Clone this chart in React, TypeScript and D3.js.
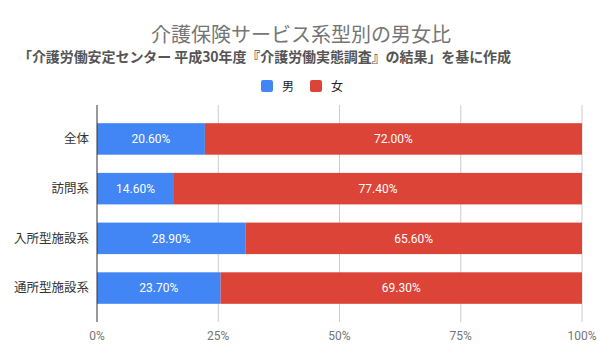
import React, { useEffect, useRef } from 'react';
import * as d3 from 'd3';

const categories = ['全体', '訪問系', '入所型施設系', '通所型施設系'];
const maleValues = [20.6, 14.6, 28.9, 23.7];
const femaleValues = [72.0, 77.4, 65.6, 69.3];
const seriesNames = ['男', '女'];
const seriesColors = ['#4285f4', '#db4437'];
const tickValues = [0, 0.25, 0.5, 0.75, 1];

const title = '介護保険サービス系型別の男女比';
const subtitle = '「介護労働安定センター 平成30年度『介護労働実態調査』の結果」を基に作成';

const width = 600;
const height = 361;
const margin = { top: 105, right: 18, bottom: 39, left: 97 };
const fontSans = 'Roboto, "Noto Sans CJK JP", sans-serif';

const App = () => {
    const svgRef = useRef<SVGSVGElement>(null);

    useEffect(() => {
        const svg = d3.select(svgRef.current);
        svg.selectAll('*').remove();

        const x = d3.scaleLinear()
            .domain([0, 1])
            .range([margin.left, width - margin.right]);

        const y = d3.scaleBand()
            .domain(categories)
            .range([margin.top, height - margin.bottom])
            .padding(0.366);

        // title + subtitle
        svg.append('text')
            .attr('x', 301)
            .attr('y', 42)
            .attr('text-anchor', 'middle')
            .attr('fill', '#757575')
            .style('font', `20px "Noto Sans CJK JP", sans-serif`)
            .text(title);

        svg.append('text')
            .attr('x', 18)
            .attr('y', 62)
            .attr('fill', '#555')
            .attr('textLength', 493)
            .style('font', `bold 14px "Noto Sans CJK JP", sans-serif`)
            .text(subtitle);

        // legend
        const legend = svg.append('g').style('font', `12px ${fontSans}`);
        const legendX = [261, 310];
        seriesNames.forEach((name, i) => {
            legend.append('rect')
                .attr('x', legendX[i])
                .attr('y', 80)
                .attr('width', 12)
                .attr('height', 12)
                .attr('rx', 2)
                .attr('fill', seriesColors[i]);
            legend.append('text')
                .attr('x', legendX[i] + 21)
                .attr('y', 90.5)
                .attr('fill', '#222')
                .text(name);
        });

        // gridlines
        svg.append('g')
            .selectAll('line')
            .data(tickValues.slice(1))
            .join('line')
            .attr('x1', d => x(d))
            .attr('x2', d => x(d))
            .attr('y1', margin.top)
            .attr('y2', height - margin.bottom)
            .attr('stroke', '#ccc');

        // bars
        const rows = categories.map((c, i) => {
            const total = maleValues[i] + femaleValues[i];
            return { c, m: maleValues[i], f: femaleValues[i], mShare: maleValues[i] / total };
        });

        const g = svg.append('g');
        g.selectAll('rect.m')
            .data(rows)
            .join('rect')
            .attr('class', 'm')
            .attr('x', x(0))
            .attr('y', d => y(d.c)!)
            .attr('width', d => x(d.mShare) - x(0))
            .attr('height', y.bandwidth())
            .attr('fill', seriesColors[0]);

        g.selectAll('rect.f')
            .data(rows)
            .join('rect')
            .attr('class', 'f')
            .attr('x', d => x(d.mShare))
            .attr('y', d => y(d.c)!)
            .attr('width', d => x(1) - x(d.mShare))
            .attr('height', y.bandwidth())
            .attr('fill', seriesColors[1]);

        const fmt = (v: number) => v.toFixed(2) + '%';
        const labels = svg.append('g')
            .attr('fill', '#fff')
            .attr('text-anchor', 'middle')
            .style('font', `12px ${fontSans}`);
        labels.selectAll('text.m')
            .data(rows)
            .join('text')
            .attr('class', 'm')
            .attr('x', d => (x(0) + x(d.mShare)) / 2)
            .attr('y', d => y(d.c)! + y.bandwidth() / 2)
            .attr('dy', '0.35em')
            .text(d => fmt(d.m));
        labels.selectAll('text.f')
            .data(rows)
            .join('text')
            .attr('class', 'f')
            .attr('x', d => (x(d.mShare) + x(1)) / 2)
            .attr('y', d => y(d.c)! + y.bandwidth() / 2)
            .attr('dy', '0.35em')
            .text(d => fmt(d.f));

        // zero line
        svg.append('line')
            .attr('x1', x(0))
            .attr('x2', x(0))
            .attr('y1', margin.top)
            .attr('y2', height - margin.bottom)
            .attr('stroke', '#333');

        // category labels
        svg.append('g')
            .attr('text-anchor', 'end')
            .attr('fill', '#333')
            .style('font', `12.5px ${fontSans}`)
            .selectAll('text')
            .data(categories)
            .join('text')
            .attr('x', margin.left - 8)
            .attr('y', d => y(d)! + y.bandwidth() / 2)
            .attr('dy', '0.35em')
            .text(d => d);

        // x tick labels
        svg.append('g')
            .attr('text-anchor', 'middle')
            .attr('fill', '#757575')
            .style('font', `12px ${fontSans}`)
            .selectAll('text')
            .data(tickValues)
            .join('text')
            .attr('x', d => x(d))
            .attr('y', 340)
            .text(d => d3.format('.0%')(d));
    }, []);

    return (
        <svg ref={svgRef} width={width} height={height} style={{ position: 'absolute', left: 0, top: 0 }}></svg>
    );
};

export default App;
